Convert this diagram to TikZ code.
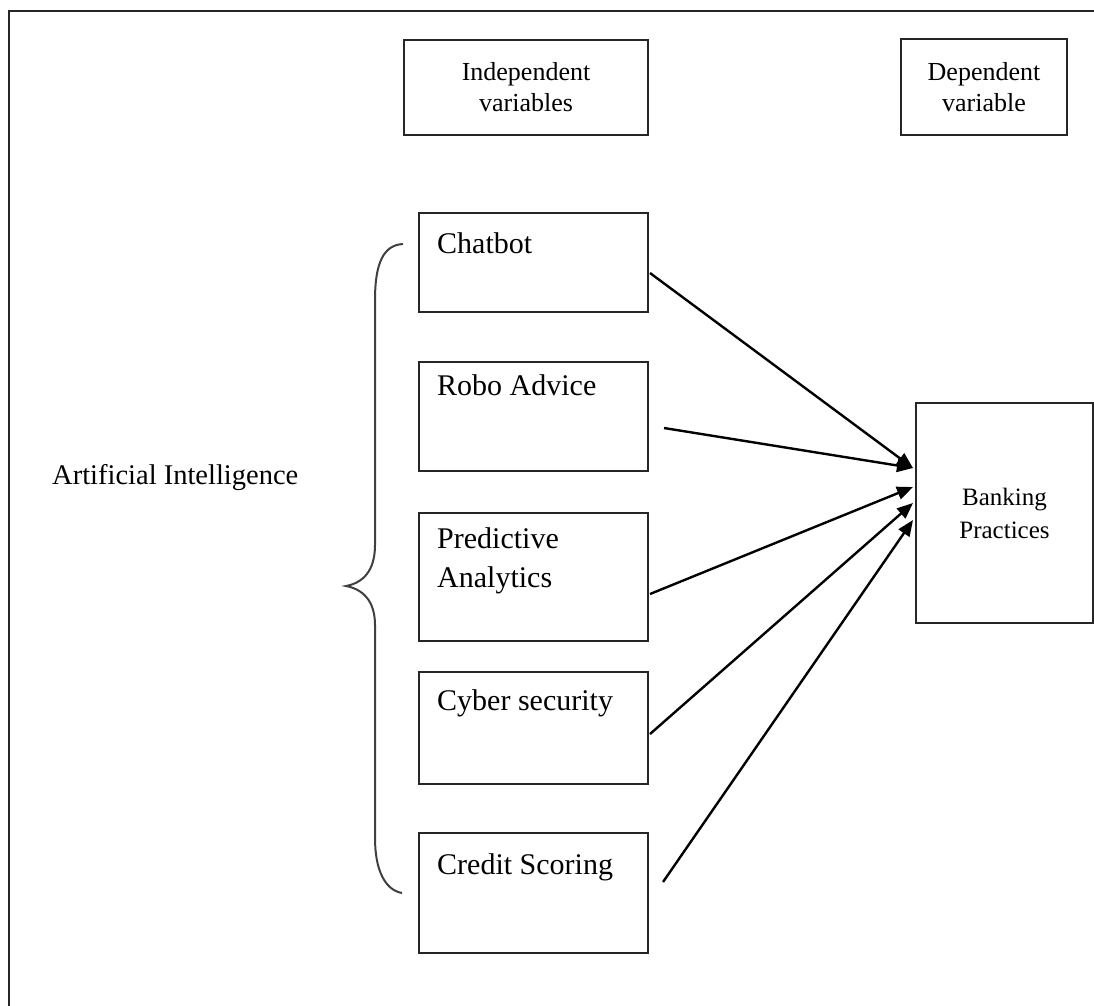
\documentclass[tikz,border=0pt]{standalone}
\usepackage{fontspec}
\setmainfont{Liberation Serif}
\usetikzlibrary{arrows.meta,calc}
\tikzset{
  box/.style={draw=black!85, line width=2pt, inner sep=0pt, align=center},
  lbl/.style={inner sep=0pt, font=\fontsize{30}{39}\selectfont, align=left},
  hdr/.style={font=\fontsize{26}{31}\selectfont},
  arr/.style={line width=2.4pt, -{Triangle[length=16pt,width=13pt]}},
  brace/.style={line width=2pt, draw=black!75},
  frame/.style={line width=2.5pt, draw=black!85}
}
\begin{document}
\begin{tikzpicture}[x=1pt,y=-1pt]
\useasboundingbox[fill=white] (0,0) rectangle (1094,1005);
\draw[frame] (9,1010) -- (9,11) -- (1100,11);

% header boxes
\node[box,hdr,minimum width=244pt,minimum height=95pt] (ind) at (526,87.5) {Independent\\variables};
\node[box,hdr,minimum width=166pt,minimum height=96pt] (dep) at (984,87) {Dependent\\variable};

% independent variable boxes
\node[box,minimum width=229pt,minimum height=99pt] (chat) at (533.5,262.5) {};
\node[box,minimum width=229pt,minimum height=109pt] (robo) at (533.5,416.5) {};
\node[box,minimum width=229pt,minimum height=128pt] (pred) at (533.5,577) {};
\node[box,minimum width=229pt,minimum height=112pt] (cyber) at (533.5,728) {};
\node[box,minimum width=229pt,minimum height=120pt] (credit) at (533.5,893) {};

\node[lbl,anchor=base west] (tchat) at (437,253) {Chatbot};
\node[lbl,anchor=base west] (trobo) at (437,395) {Robo Advice};
\node[lbl,anchor=west] (tpred) at (437,561) {Predictive\\Analytics};
\node[lbl,anchor=base west] (tcyber) at (437,710) {Cyber security};
\node[lbl,anchor=base west] (tcredit) at (437,874) {Credit Scoring};

% dependent variable box
\node[box,font=\fontsize{25}{33}\selectfont,minimum width=177pt,minimum height=220pt] (bank) at (1004.5,513) {Banking\\Practices};

% label
\node[inner sep=0pt,anchor=base west,font=\fontsize{28.5}{34}\selectfont] (ai) at (52,484) {Artificial Intelligence};

% brace
\draw[brace] (403,244) .. controls (384,245) and (375,262) .. (375,300)
  -- (375,545) .. controls (375,572) and (362,583) .. (346,586)
  .. controls (362,589) and (375,600) .. (375,625)
  -- (375,838) .. controls (375,870) and (385,890) .. (402,893);

% arrows
\draw[arr] ($(chat.east)+(1,10.5)$) -- ($(bank.west)+(-2,-45)$);
\draw[arr] ($(robo.east)+(15,11.5)$) -- ($(bank.west)+(-2,-45)$);
\draw[arr] ($(pred.east)+(1,17)$) -- ($(bank.west)+(-2,-26)$);
\draw[arr] ($(cyber.east)+(1,6)$) -- ($(bank.west)+(-2,-10)$);
\draw[arr] ($(credit.east)+(14,-11)$) -- ($(bank.west)+(-2,7)$);
\end{tikzpicture}
\end{document}
